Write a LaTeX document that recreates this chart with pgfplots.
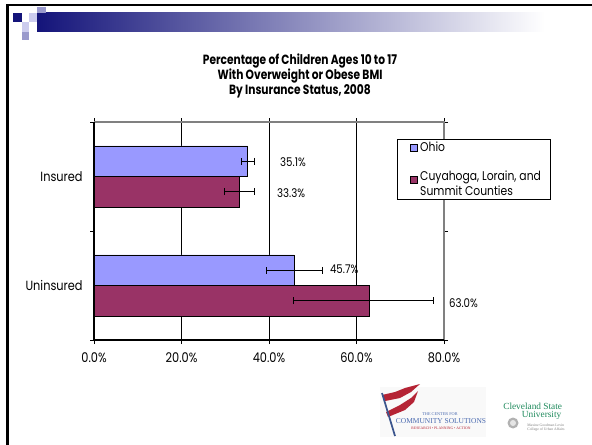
\documentclass[border=0pt]{standalone}
\usepackage{fontspec}
\setmainfont{Poppins}[FakeStretch=0.85]
\newfontfamily\titlefont{Poppins}[FakeStretch=0.8]
\newfontfamily\logoserif{Liberation Serif}
\usepackage{pgfplots}
\pgfplotsset{compat=1.18}
\definecolor{ohio}{HTML}{9999FF}
\definecolor{cuy}{HTML}{993366}
\definecolor{navy}{HTML}{14147A}
\definecolor{lavA}{HTML}{CCCCEE}
\definecolor{lavB}{HTML}{9999CC}
\definecolor{csugreen}{HTML}{1E8A5C}
\definecolor{ccsblue}{HTML}{4A6AB0}
\definecolor{ccsred}{HTML}{B52435}
\pgfplotsset{sqlegend/.style={legend image code/.code={\path[draw=none,fill=none] (0pt,-2.6pt) -- (0.1pt,2.6pt);\draw[##1] (4.6pt,-2.6pt) rectangle (9.8pt,2.6pt);}},
  sqlegendB/.style={legend image code/.code={\path[draw=none,fill=none] (0pt,0.8pt) -- (0.1pt,6.0pt);\draw[##1] (4.6pt,0.8pt) rectangle (9.8pt,6.0pt);}}}
\begin{document}
\begin{tikzpicture}
\begin{scope}[x=0.75pt,y=-0.75pt]
\useasboundingbox (0,0) rectangle (592,445);
\fill[white] (0,0) rectangle (592,445);
% slide frame
\fill[black] (6,4) rectangle (592,6.5);
\fill[black] (6,4) rectangle (9,445);
% header bar
\shade[left color=navy, right color=white] (37,13) rectangle (545,32);
\fill[white] (545,13) rectangle (592,32);
\fill[navy] (13,13) rectangle (22,22);
\fill[lavA] (29,13) rectangle (37,22);
\fill[lavB] (37,7) rectangle (46,13);
\fill[lavA] (22,22) rectangle (29,32);
\fill[lavB] (22,32) rectangle (29,40);
% title
\node[align=center, font=\titlefont\bfseries\fontsize{10}{10.2}\selectfont] at (300,76)
  {Percentage of Children Ages 10 to 17\\With Overweight or Obese BMI\\By Insurance Status, 2008};
% logo 1
\fill[gray!5] (380,387) rectangle (486,437);
\fill[ccsred] (382,395) -- (395,392) -- (405,388) -- (420,384) -- (411,392) -- (400,398) -- (385,401) -- cycle;
\fill[ccsred] (386,412) -- (400,405) -- (411,398) -- (418,391) -- (414,402) -- (405,410) -- (388,417) -- cycle;
\draw[ccsblue!80!black, line width=1.3pt] (382,393) -- (395,436);
\node[font=\logoserif\fontsize{3.2}{3.5}\selectfont, text=ccsblue] at (440,414) {THE CENTER FOR};
\node[font=\logoserif\fontsize{5.6}{6}\selectfont, text=ccsblue] at (441,421) {COMMUNITY SOLUTIONS};
\node[font=\logoserif\fontsize{2.8}{3}\selectfont, text=ccsred] at (441,428) {RESEARCH \textbullet{} PLANNING \textbullet{} ACTION};
% logo 2
\node[font=\logoserif\fontsize{7}{5.6}\selectfont, text=csugreen, align=left, anchor=west, inner sep=0pt] at (503,411.5) {Cleveland State\\\hspace*{14pt}University};
\fill[gray!60] (513,423) circle (5.5);
\fill[gray!20] (513,423) circle (3);
\node[font=\logoserif\fontsize{2.8}{3}\selectfont, text=gray, align=left] at (546,428) {Maxine Goodman Levin\\College of Urban Affairs};
\end{scope}
\begin{axis}[
  at={(70.5pt,-255pt)}, anchor=south west,
  scale only axis, width=262.5pt, height=163.5pt,
  xbar, bar width=0.28,
  xmin=0, xmax=80, ymin=-0.5, ymax=1.5,
  clip=false,
  axis line style={draw=none},
  xtick={0,20,40,60,80},
  xticklabels={0.0\%,20.0\%,40.0\%,60.0\%,80.0\%},
  ytick={-0.5,0.5,1.5}, yticklabels={},
  extra y ticks={0,1}, extra y tick labels={Uninsured,Insured},
  extra y tick style={major tick length=0pt, yticklabel style={xshift=-5pt}},
  extra x ticks={20,40,60}, extra x tick labels={},
  extra x tick style={grid=major, major grid style={black, line width=0.6pt}, major tick length=0pt},
  tick align=outside, major tick length=3pt,
  every tick/.style={black, line width=0.6pt},
  /pgf/number format/assume math mode=true,
  xticklabel style={font=\fontsize{10}{11}\selectfont, yshift=-3pt},
  yticklabel style={font=\fontsize{10}{11}\selectfont},
  legend style={at={(0.866,0.922)}, anchor=north west, draw=black, line width=0.6pt,
    font=\fontsize{9.5}{9.75}\selectfont, cells={anchor=west, align=left},
    row sep=9pt, inner xsep=5pt, inner ysep=0pt},
]
\addplot[xbar, bar shift=0.14, fill=ohio, draw=black, line width=0.5pt,
  area legend, sqlegend,
  error bars/.cd, x dir=both, x explicit, error mark=|, error bar style={black, line width=0.6pt},
  error mark options={black, mark size=2.6pt, line width=0.6pt}]
  coordinates {(35.1,1) += (1.5,0) -= (1.5,0) (45.7,0) += (6.4,0) -= (6.2,0)};
\addlegendentry{Ohio}
\addplot[xbar, bar shift=-0.14, fill=cuy, draw=black, line width=0.5pt,
  area legend, sqlegendB,
  error bars/.cd, x dir=both, x explicit, error mark=|, error bar style={black, line width=0.6pt},
  error mark options={black, mark size=2.6pt, line width=0.6pt}]
  coordinates {(33.3,1) += (3.3,0) -= (3.4,0) (63.0,0) += (14.6,0) -= (17.4,0)};
\addlegendentry{Cuyahoga, Lorain, and\\Summit Counties}
\draw[gray, line width=0.8pt] (rel axis cs:0,1) -- (rel axis cs:1,1) -- (rel axis cs:1,0);
\draw[black, line width=0.8pt] (rel axis cs:0,1) -- (rel axis cs:0,0) -- (rel axis cs:1,0);
\node[anchor=west, font=\fontsize{9}{10}\selectfont, inner sep=0pt] at (axis cs:42.5,1.13) {35.1\%};
\node[anchor=west, font=\fontsize{9}{10}\selectfont, inner sep=0pt] at (axis cs:41.8,0.85) {33.3\%};
\node[anchor=west, font=\fontsize{9}{10}\selectfont, inner sep=0pt] at (axis cs:53.9,0.15) {45.7\%};
\node[anchor=west, font=\fontsize{9}{10}\selectfont, inner sep=0pt] at (axis cs:81.1,-0.16) {63.0\%};
\end{axis}
\end{tikzpicture}
\end{document}
